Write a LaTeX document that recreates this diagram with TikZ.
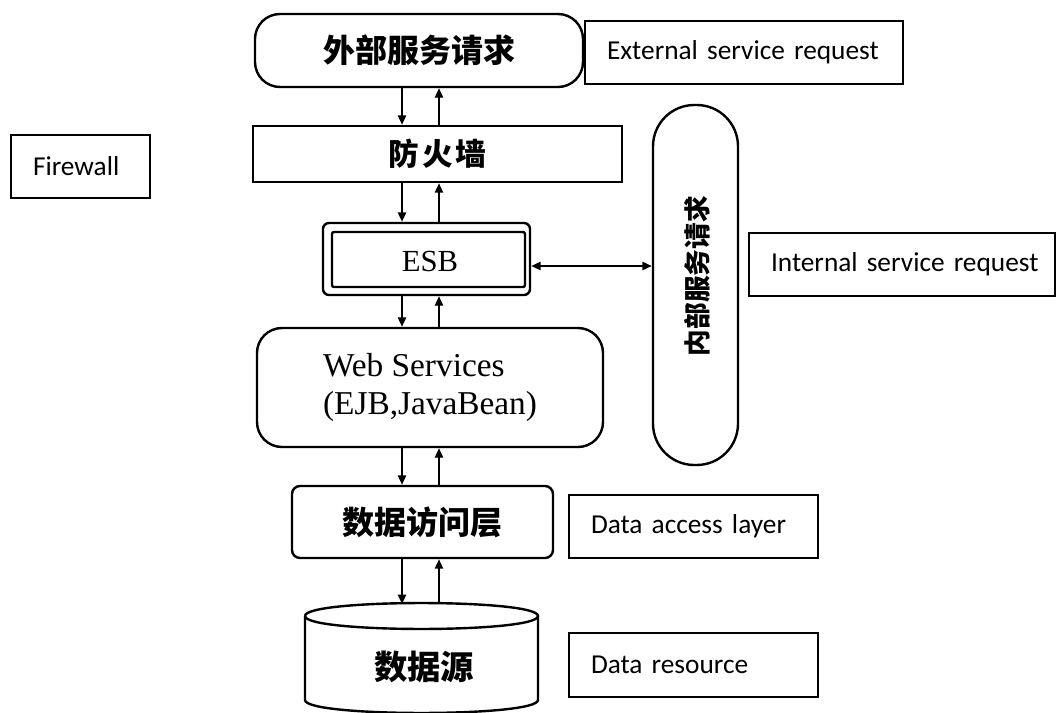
\documentclass[tikz,border=0pt]{standalone}
\usepackage{fontspec}
\setmainfont{Liberation Serif}
\newfontfamily\cjk{Noto Sans CJK SC}
\newfontfamily\lblfont[WordSpace=0.85]{Carlito}
\usetikzlibrary{arrows.meta}

\tikzset{
  box/.style={draw=black, line width=1.8pt, fill=white, inner sep=0pt},
  cjktext/.style={font=\cjk\bfseries\fontsize{24pt}{28pt}\selectfont},
  lbl/.style={draw=black, line width=1.4pt, fill=white, inner ysep=0pt, inner xsep=16.5pt,
              align=left, font=\lblfont\fontsize{20.5pt}{24pt}\selectfont, minimum height=47.25pt},
  flow/.style={line width=1.6pt, -{Triangle[length=7pt,width=6pt]}},
  twoway/.style={line width=1.6pt, {Triangle[length=7pt,width=6pt]}-{Triangle[length=7pt,width=6pt]}}
}

\begin{document}
\begin{tikzpicture}[x=0.75pt,y=-0.75pt]
  \useasboundingbox (0,0) rectangle (1057,713);
  \fill[white] (0,0) rectangle (1057,713);

  % columns of the down and up arrows
  \coordinate (dx) at (402,0);
  \coordinate (ux) at (439,0);

  % main stack
  \node[box, cjktext, rounded corners=18.75pt, minimum width=246pt, minimum height=54.75pt]
    (ext) at (419,50.5) {外部服务请求};
  \node[box, cjktext, minimum width=276.75pt, minimum height=42pt, font=\cjk\bfseries\fontsize{23pt}{26pt}\selectfont]
    (fw) at (437.5,154) {\raisebox{-5pt}{防\hspace{2pt}火\hspace{2pt}墙}};
  \node[box, rounded corners=4.5pt, minimum width=155.25pt, minimum height=54pt]
    (esb) at (426.5,259) {};
  \draw[line width=1.8pt, rounded corners=1.5pt] (332,232) rectangle (525,287);
  \node[font=\fontsize{23pt}{26pt}\selectfont] (esbtext) at (430,261) {ESB};
  \node[box, rounded corners=18.75pt, minimum width=259.5pt, minimum height=89.25pt, align=left,
        font=\fontsize{25pt}{28pt}\selectfont]
    (web) at (430,387.5) {Web Services\\(EJB,JavaBean)};
  \node[box, cjktext, rounded corners=6pt, minimum width=195.75pt, minimum height=54pt]
    (dal) at (422.5,522) {数据访问层};

  % data source cylinder
  \draw[line width=1.8pt, fill=white] (305,616) -- (305,700) .. controls (305,717.3) and (538,717.3) .. (538,700) -- (538,616);
  \draw[line width=1.8pt] (305,616) .. controls (305,598.7) and (538,598.7) .. (538,616)
                                    .. controls (538,633.3) and (305,633.3) .. (305,616);
  \node[cjktext, font=\cjk\bfseries\fontsize{25pt}{28pt}\selectfont] (ds) at (424,667) {数据源};
  \coordinate (dstop) at (421.5,604);

  % internal request pill
  \node[box, rounded corners=31pt, minimum width=63.75pt, minimum height=270pt]
    (int) at (695.5,285) {};
  \node[cjktext, rotate=90, font=\cjk\bfseries\fontsize{20pt}{24pt}\selectfont]
    (inttext) at (697,276) {内部服务请求};

  % vertical flows
  \draw[flow] (ext.south -| dx) -- (fw.north -| dx);
  \draw[flow] (fw.north -| ux) -- (ext.south -| ux);
  \draw[flow] (fw.south -| dx) -- (esb.north -| dx);
  \draw[flow] (esb.north -| ux) -- (fw.south -| ux);
  \draw[flow] (esb.south -| dx) -- (web.north -| dx);
  \draw[flow] (web.north -| ux) -- (esb.south -| ux);
  \draw[flow] (web.south -| dx) -- (dal.north -| dx);
  \draw[flow] (dal.north -| ux) -- (web.south -| ux);
  \draw[flow] (dal.south -| dx) -- (dstop -| dx);
  \draw[flow] (dstop -| ux) -- (dal.south -| ux);

  % ESB to internal requests
  \coordinate (esbr) at ([yshift=-5.25pt]esb.east);
  \draw[twoway] (esbr) -- (int.west |- esbr);

  % English labels
  \node[lbl, text width=205.5pt] (extlbl) at (744,52.5) {External service request};
  \node[lbl, text width=71.25pt] (fwlbl) at (80.5,166.5) {Firewall};
  \node[lbl, text width=196.5pt] (intlbl) at (902,264.5) {\mbox{Internal service request}};
  \node[lbl, text width=153.75pt] (dallbl) at (693.5,526.5) {Data access layer};
  \node[lbl, text width=153.75pt, minimum height=48pt] (dslbl) at (693.5,665) {Data resource};
\end{tikzpicture}
\end{document}
